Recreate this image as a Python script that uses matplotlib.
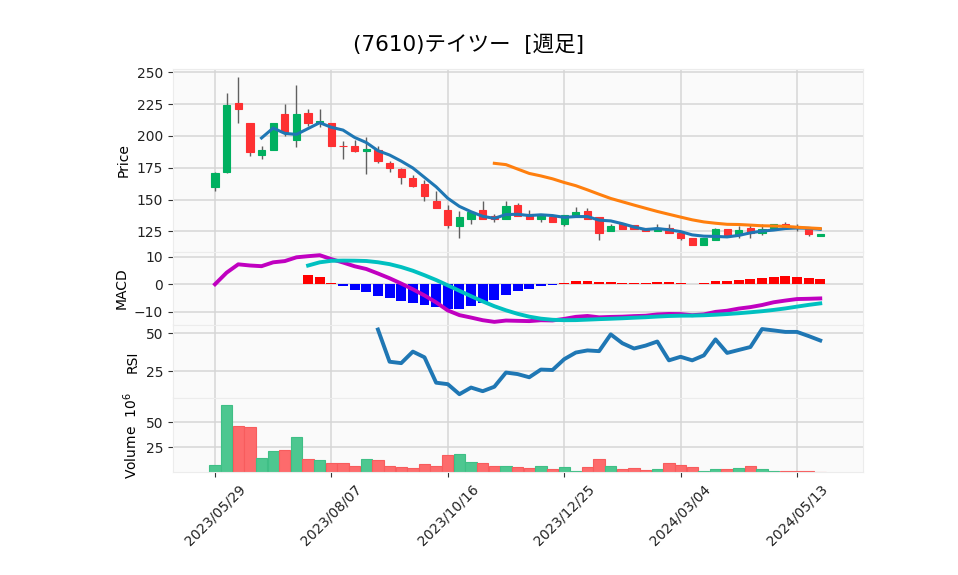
import numpy as np
import pandas as pd
import matplotlib
matplotlib.use("Agg")
import matplotlib.pyplot as plt

plt.rcParams['font.family'] = ['DejaVu Sans', 'Noto Sans CJK JP']
plt.rcParams['axes.unicode_minus'] = True

title = "(7610)テイツー  [週足]"
start_date = "2023-05-29"

opens  = [160,172,226,210,185,189,217,197,218,210,210,192,192,188,189,179,174,167,162,149,
          142,129,135,142,137,135,146,139,135,136,131,137,141,136,125,131,130,128,125,128,
          124,120,114,118,127,122,128,124,128,131,128,127,121]
highs  = [172,234,246,210,192,210,225,240,221,221,210,196,197,199,192,180,175,169,165,157,
          146,141,141,149,139,149,147,142,138,136,138,144,143,136,131,131,130,128,131,131,
          124,120,120,128,127,129,131,131,131,132,131,127,123]
lows   = [157,171,210,184,182,189,200,191,208,207,192,182,187,170,179,172,162,160,149,143,
          128,120,131,135,132,135,137,135,132,132,129,136,135,118,125,127,127,125,125,124,
          118,114,114,118,122,120,120,122,128,128,125,121,121]
closes = [171,224,221,187,189,210,203,217,210,212,192,192,188,190,180,175,168,161,153,143,
          130,136,140,135,135,145,137,135,138,132,138,140,135,124,129,127,127,125,128,124,
          120,114,120,127,122,126,124,127,131,128,128,123,123]
volume_m = [7.7,67.5,46.3,45.2,13.9,20.9,21.9,35.1,12.9,11.9,8.9,8.9,5.9,12.9,11.9,5.9,4.9,3.9,7.9,5.9,
            16.9,17.9,9.9,8.9,5.9,6.5,5.5,4.3,6.3,3.3,5.3,1.3,5.3,13.3,6.3,3.3,4.3,2.3,3.3,9.3,
            7.3,5.3,1.3,3.3,3.3,4.3,6.3,3.3,1.3,1.3,1.3,1.3,0.4]

n = len(closes)
dates = pd.date_range(start_date, periods=n, freq="7D")
df = pd.DataFrame({"Open": opens, "High": highs, "Low": lows, "Close": closes,
                   "Volume": volume_m}, index=dates)

c = df["Close"]
sma5 = c.rolling(5).mean()
sma25 = c.rolling(25).mean()
ema12 = c.ewm(span=12, adjust=False).mean()
ema26 = c.ewm(span=26, adjust=False).mean()
macd = ema12 - ema26
signal = macd.rolling(9).mean()
hist = macd - signal
d = c.diff()
gain = d.clip(lower=0).rolling(14).mean()
loss = (-d.clip(upper=0)).rolling(14).mean()
rsi = 100 * gain / (gain + loss)

UP, DOWN = '#00b060', '#fe3032'
VUP, VDOWN = '#4dc790', '#fd6b6c'
WICK = '#606060'
FACE = '#fafafa'
GRID = '#d6d6d6'

fig = plt.figure(figsize=(9.58, 5.75), dpi=100)
L, R = 0.1803, 0.9008
ax_p = fig.add_axes([L, 0.5623, R - L, 0.8795 - 0.5623])
ax_m = fig.add_axes([L, 0.4348, R - L, 0.5623 - 0.4348], sharex=ax_p)
ax_r = fig.add_axes([L, 0.3073, R - L, 0.4348 - 0.3073], sharex=ax_p)
ax_v = fig.add_axes([L, 0.1786, R - L, 0.3073 - 0.1786], sharex=ax_p)

x = np.arange(n)
o = np.array(opens, float); cl = np.array(closes, float)
hi = np.array(highs, float); lo = np.array(lows, float)
up = cl > o
ccol = np.where(up, UP, DOWN)

for ax in (ax_p, ax_m, ax_r, ax_v):
    ax.set_facecolor(FACE)
    ax.grid(True, color=GRID, linewidth=1.1)
    ax.set_axisbelow(True)
    for s in ax.spines.values():
        s.set_color('#ececec')
    ax.tick_params(axis='y', labelsize=10, colors='#222222', length=3.5, color='#333333')

# price panel
ax_p.vlines(x, lo, hi, color=WICK, linewidth=1.0, zorder=2)
ax_p.bar(x, np.abs(cl - o), bottom=np.minimum(o, cl), width=0.62, color=ccol,
         edgecolor=ccol, linewidth=0.8, zorder=3)
ax_p.plot(x, sma5, color='#1f77b4', linewidth=2.2, zorder=4)
ax_p.plot(x, sma25, color='#ff7f0e', linewidth=2.2, zorder=4)
ax_p.set_ylim(109, 252.4)
ax_p.set_yticks([125, 150, 175, 200, 225, 250])
ax_p.set_ylabel("Price", fontsize=10)

# MACD panel
hcol = np.where(hist.values >= 0, '#ff0000', '#0000ff')
ax_m.bar(x, hist.fillna(0).values, width=0.85, color=hcol, zorder=2)
ax_m.plot(x, macd, color='#c000c0', linewidth=2.8, zorder=3)
ax_m.plot(x, signal, color='#00c0c0', linewidth=2.8, zorder=3)
ax_m.set_ylim(-14.8, 11.85)
ax_m.set_yticks([-10, 0, 10])
ax_m.set_ylabel("MACD", fontsize=10)

# RSI panel
ax_r.plot(x, rsi, color='#1f77b4', linewidth=2.8)
ax_r.set_ylim(7.2, 55.5)
ax_r.set_yticks([25, 50])
ax_r.set_ylabel("RSI", fontsize=10)

# Volume panel
prev = np.concatenate([[o[0]], cl[:-1]])
vup = cl > prev
vcol = np.where(vup, VUP, VDOWN)
vedge = np.where(vup, '#3fbf86', '#f85c5d')
ax_v.bar(x, volume_m, width=0.97, color=vcol, edgecolor=vedge, linewidth=0.8, zorder=2)
ax_v.set_ylim(0, 74)
ax_v.set_yticks([25, 50])
ax_v.set_ylabel("Volume  $10^{6}$", fontsize=10)

ax_p.set_xlim(-3.63, 55.67)
tick_idx = list(range(0, n, 10))
ax_v.set_xticks(tick_idx)
ax_v.set_xticklabels([dates[i].strftime('%Y/%m/%d') for i in tick_idx], rotation=45, fontsize=10)
ax_v.tick_params(axis='x', length=3.5, color='#333333', labelcolor='#222222')
for ax in (ax_p, ax_m, ax_r):
    ax.tick_params(axis='x', length=0, labelbottom=False)

fig.text(0.489, 0.922, title, ha='center', va='center', fontsize=15.5)

fig.savefig("out.png", dpi=100)
